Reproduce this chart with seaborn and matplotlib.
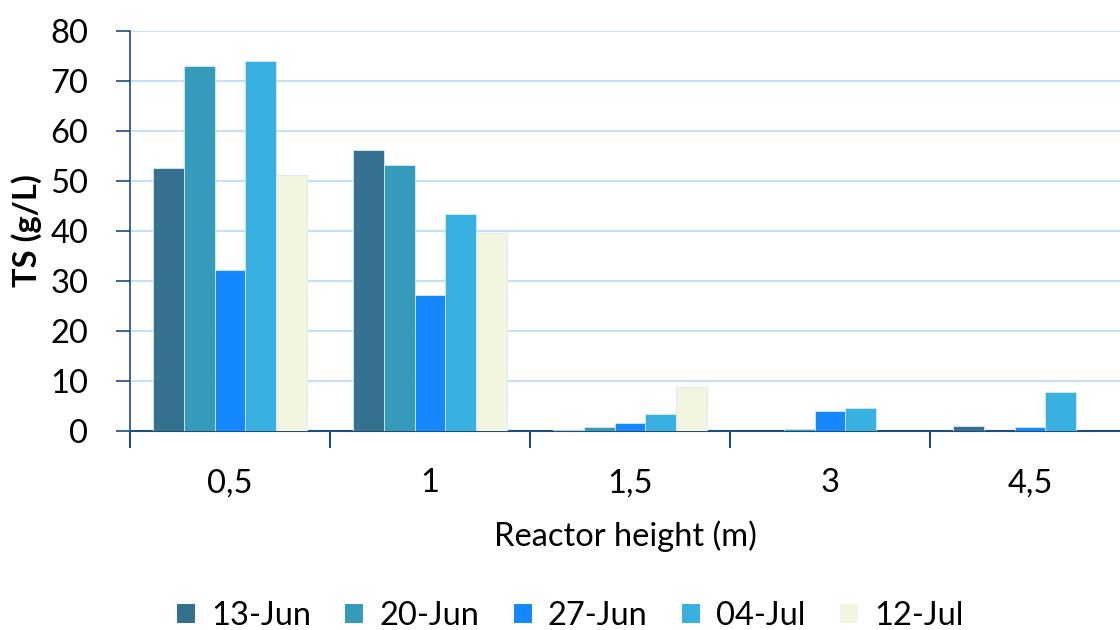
import matplotlib
matplotlib.use("Agg")
import matplotlib.pyplot as plt
import seaborn as sns
import pandas as pd
from matplotlib.patches import Patch

heights = ["0,5", "1", "1,5", "3", "4,5"]
dates = ["13-Jun", "20-Jun", "27-Jun", "04-Jul", "12-Jul"]
ts_13jun = [52.6, 56.3, 0.2, 0.1, 1.1]
ts_20jun = [73.0, 53.3, 0.9, 0.5, 0.0]
ts_27jun = [32.2, 27.3, 1.6, 4.1, 0.8]
ts_04jul = [74.0, 43.5, 3.5, 4.6, 7.9]
ts_12jul = [51.3, 39.7, 8.8, 0.0, 0.0]
colors = ["#35708F", "#359BBA", "#1688FF", "#38B0E0", "#F2F5DF"]

series = [ts_13jun, ts_20jun, ts_27jun, ts_04jul, ts_12jul]
rows = []
for d, vals in zip(dates, series):
    for h, v in zip(heights, vals):
        rows.append({"height": h, "date": d, "ts": v})
df = pd.DataFrame(rows)

sns.set_theme(style="white")
plt.rcParams["font.family"] = ["Lato", "DejaVu Sans"]
plt.rcParams["text.color"] = "black"
plt.rcParams["xtick.color"] = "black"
plt.rcParams["ytick.color"] = "black"
plt.rcParams["axes.labelcolor"] = "black"

FS = 23.5

fig = plt.figure(figsize=(11.2, 6.3), dpi=100)
ax = fig.add_axes([130/1120, 1-431/630, 1-130/1120, 400/630])

sns.barplot(data=df, x="height", y="ts", hue="date", order=heights, hue_order=dates,
            palette=colors, width=0.77, ax=ax, legend=False, saturation=1,
            edgecolor="#D6E8F5", linewidth=0.6, zorder=3)

ax.set_xlim(-0.5, 4.45)
ax.set_ylim(0, 80)
ax.set_yticks(range(0, 81, 10))
ax.yaxis.grid(True, color="#C5E0FA", linewidth=1.5, zorder=0)
ax.xaxis.grid(False)

spine_c = "#1F4E79"
for s in ["top", "right"]:
    ax.spines[s].set_visible(False)
ax.spines["left"].set_color(spine_c)
ax.spines["bottom"].set_color(spine_c)
ax.spines["left"].set_linewidth(1.2)
ax.spines["bottom"].set_linewidth(1.5)

# x ticks: boundaries as major (no labels), centers as minor (labels)
ax.set_xticks([-0.5, 0.5, 1.5, 2.5, 3.5])
ax.set_xticklabels([])
ax.set_xticks(range(len(heights)), minor=True)
ax.set_xticklabels(heights, minor=True)
ax.tick_params(axis="x", which="major", length=12, width=1.5, color=spine_c, direction="out", bottom=True)
ax.tick_params(axis="x", which="minor", length=0, pad=27, labelsize=FS, labelcolor="black")
ax.tick_params(axis="y", length=10, width=1.2, color=spine_c, direction="out", left=True,
               labelsize=FS, pad=20, labelcolor="black")

ax.set_xlabel("Reactor height (m)", fontsize=FS, labelpad=16)
ax.set_ylabel("TS (g/L)", fontsize=FS, fontweight="bold", labelpad=6)

handles = [Patch(facecolor=c, edgecolor="none") for c in colors]
fig.legend(handles, dates, loc="center", bbox_to_anchor=(570/1120, 1-616/630), ncol=5,
           frameon=False, fontsize=FS, handlelength=0.55, handleheight=0.55,
           handletextpad=0.5, columnspacing=1.05)

fig.savefig("out.png", dpi=100)
